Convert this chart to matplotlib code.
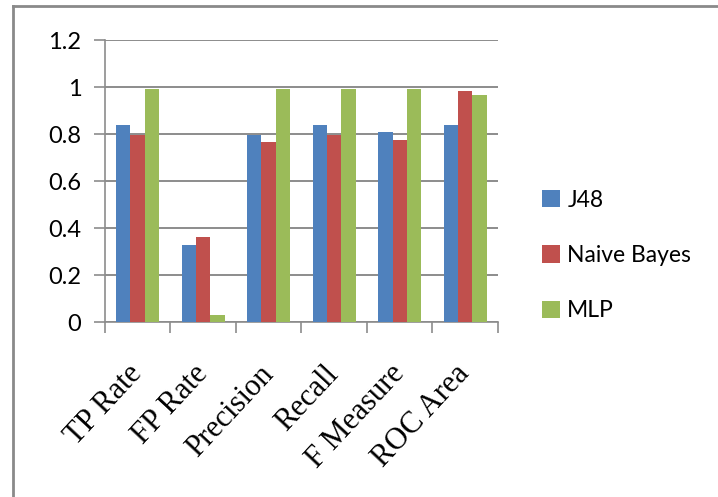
import matplotlib
matplotlib.use("Agg")
import matplotlib.pyplot as plt
import numpy as np
from matplotlib.lines import Line2D
from matplotlib.patches import Patch

metrics = ["TP Rate", "FP Rate", "Precision", "Recall", "F Measure", "ROC Area"]
j48 = [0.837, 0.327, 0.797, 0.837, 0.811, 0.837]
naive_bayes = [0.797, 0.364, 0.768, 0.797, 0.776, 0.985]
mlp = [0.990, 0.032, 0.990, 0.990, 0.990, 0.966]
y_ticks = [0, 0.2, 0.4, 0.6, 0.8, 1, 1.2]
y_tick_labels = ["0", "0.2", "0.4", "0.6", "0.8", "1", "1.2"]

SERIES = [("J48", j48, "#4F81BD"),
          ("Naive Bayes", naive_bayes, "#C0504D"),
          ("MLP", mlp, "#9BBB59")]
GRID = "#8c8c8c"
W = 0.221

fig = plt.figure(figsize=(7.18, 4.97), dpi=100)
ax = fig.add_axes([0.1462, 0.3515, 0.5474, 0.568])

x = np.arange(len(metrics))
for i, (name, vals, color) in enumerate(SERIES):
    ax.bar(x + (i - 1) * W, vals, W, color=color, zorder=3)

ax.set_xlim(-0.5, len(metrics) - 0.5)
ax.set_ylim(0, 1.2)
ax.set_yticks(y_ticks)
ax.set_yticklabels(y_tick_labels, fontfamily="Lato", fontsize=17)
ax.yaxis.grid(True, color=GRID, lw=1.4, zorder=0)
ax.tick_params(axis="y", length=8, width=1.2, color=GRID, pad=9)

# category labels at centres, tick marks at the boundaries
ax.set_xticks(x)
ax.set_xticklabels(metrics, fontfamily="Liberation Serif", fontsize=22,
                   rotation=47, ha="right", va="center", rotation_mode="anchor")
ax.set_xticks(np.arange(len(metrics) + 1) - 0.5, minor=True)
ax.tick_params(axis="x", which="major", length=0, pad=34)
ax.tick_params(axis="x", which="minor", length=8, width=1.2, color=GRID)

for side in ("top", "right"):
    ax.spines[side].set_visible(False)
for side in ("left", "bottom"):
    ax.spines[side].set_color(GRID)
    ax.spines[side].set_linewidth(1.2)

handles = [Patch(facecolor=c, label=n) for n, _, c in SERIES]
fig.legend(handles=handles, loc="center left", bbox_to_anchor=(0.755, 0.486),
           frameon=False, prop={"family": "Lato", "size": 16.5},
           handlelength=0.8, handleheight=0.8, handletextpad=0.3,
           labelspacing=1.5, borderaxespad=0, borderpad=0)

# outer chart frame (left and top edges)
fig.add_artist(Line2D([12.5 / 718, 12.5 / 718], [0, 1 - 6 / 497],
                      transform=fig.transFigure, color="#8a8a8a", lw=2))
fig.add_artist(Line2D([12.5 / 718, 1], [1 - 6 / 497, 1 - 6 / 497],
                      transform=fig.transFigure, color="#8a8a8a", lw=2))

fig.savefig("out.png", dpi=100)
